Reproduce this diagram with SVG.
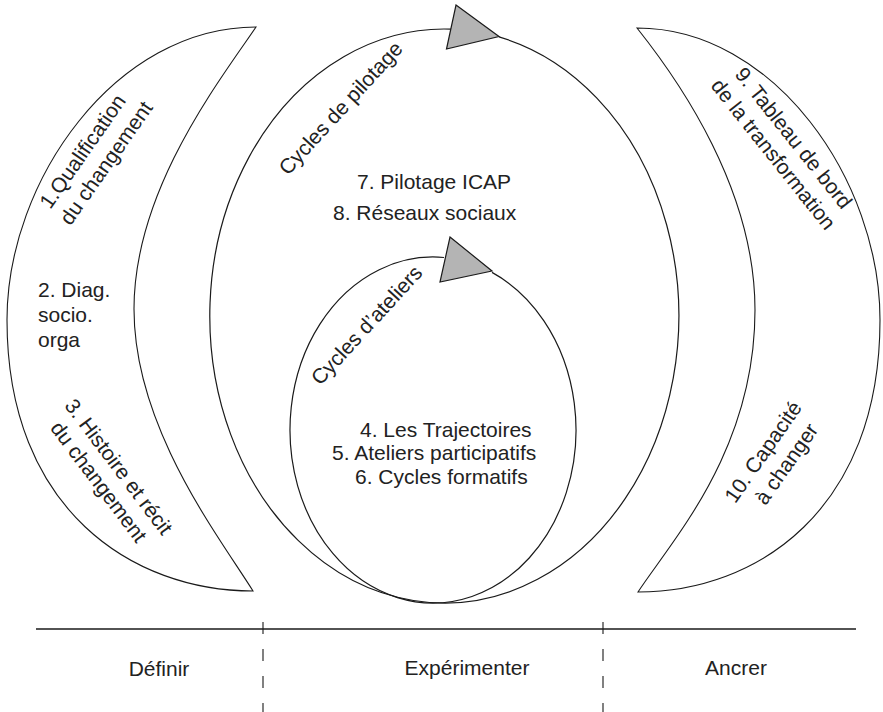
<svg xmlns="http://www.w3.org/2000/svg" width="883" height="712" viewBox="0 0 883 712">
<style>
  .shape { fill: #ffffff; stroke: #1a1a1a; stroke-width: 1.1; }
  .ring { fill: none; stroke: #1a1a1a; stroke-width: 1.2; }
  .head { fill: #b4b4b4; stroke: #1a1a1a; stroke-width: 1.2; stroke-linejoin: miter; }
  .t { font-family: "Liberation Sans", Arial, sans-serif; font-size: 21px; fill: #222222; }
  .m { text-anchor: middle; }
  .axis { stroke: #1a1a1a; stroke-width: 1.5; fill: none; }
  .sep { stroke: #1a1a1a; stroke-width: 1.1; stroke-dasharray: 12 15; fill: none; }
</style>
<rect x="0" y="0" width="883" height="712" fill="#ffffff"/>

<g id="crescent-definir">
  <path class="shape" d="M256,27 C116,27 7,180 7,320 C7,510 133,591 253,591 C220,538 134,428 134,309 C134,190 220,80 256,27 Z"/>
  <g transform="translate(88.5,155.5) rotate(-55)">
    <text class="t m" x="0" y="0">1.Qualification</text>
    <text class="t m" x="4" y="26">du changement</text>
  </g>
  <text class="t" x="38" y="297">2. Diag.</text>
  <text class="t" x="38" y="322">socio.</text>
  <text class="t" x="38" y="347">orga</text>
  <g transform="translate(113,471) rotate(53)">
    <text class="t m" x="0" y="0">3. Histoire et récit</text>
    <text class="t m" x="0" y="25">du changement</text>
  </g>
</g>

<g id="cycle-pilotage">
  <path class="ring" d="M499,36.9 A234.5,287 0 1,1 451,29.1"/>
  <polygon class="head" points="456,5 499,36.5 446.5,49"/>
  <text class="t m" transform="translate(346,113) rotate(-47.5)">Cycles de pilotage</text>
  <text class="t" x="357" y="189">7. Pilotage ICAP</text>
  <text class="t" x="333" y="220">8. Réseaux sociaux</text>
</g>

<g id="cycle-ateliers">
  <path class="ring" d="M492,272.4 A143,173 0 1,1 444,257.5"/>
  <polygon class="head" points="450,237 492,271 440,282"/>
  <text class="t m" transform="translate(372,330) rotate(-47.5)">Cycles d’ateliers</text>
  <text class="t" x="360" y="437">4. Les Trajectoires</text>
  <text class="t" x="332" y="460">5. Ateliers participatifs</text>
  <text class="t" x="355" y="484">6. Cycles formatifs</text>
</g>

<g id="crescent-ancrer">
  <path class="shape" d="M637,28 C774,28 880,180 880,320 C880,510 757,592 638,592 C673,539 755,450 755,310 C755,190 680,82 637,28 Z"/>
  <g transform="translate(788,142.5) rotate(51.5)">
    <text class="t m" x="0" y="0">9. Tableau de bord</text>
    <text class="t m" x="0" y="26">de la transformation</text>
  </g>
  <g transform="translate(769,456) rotate(-55)">
    <text class="t m" x="0" y="0">10. Capacité</text>
    <text class="t m" x="3.5" y="26">à changer</text>
  </g>
</g>

<g id="connectors">
  <line class="axis" x1="36" y1="629" x2="856" y2="629"/>
  <line class="sep" x1="263" y1="622" x2="263" y2="712"/>
  <line class="sep" x1="603" y1="622" x2="603" y2="712"/>
</g>

<g id="phases">
  <text class="t m" x="159" y="676">Définir</text>
  <text class="t m" x="467" y="675">Expérimenter</text>
  <text class="t m" x="736" y="675">Ancrer</text>
</g>
</svg>
